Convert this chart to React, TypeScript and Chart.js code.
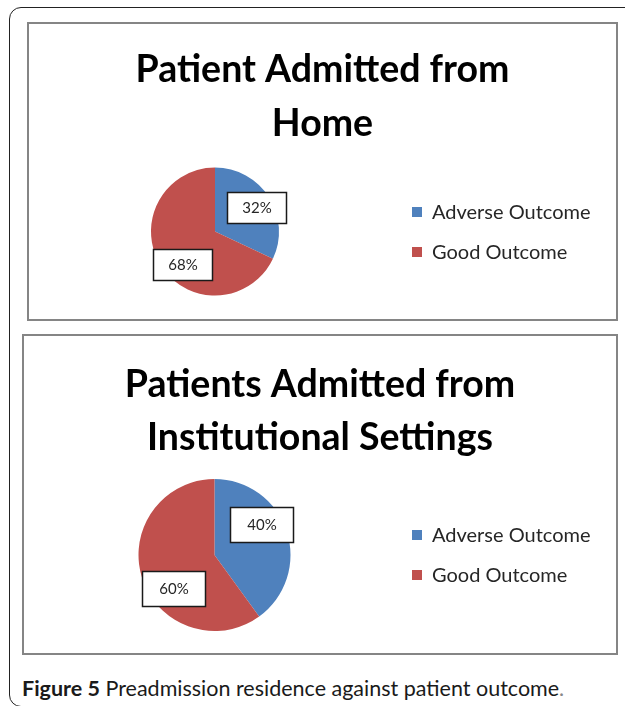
import React, { useEffect, useRef } from "react";
import { Chart, registerables, layouts } from "chart.js";

Chart.register(...registerables);

// ---- data ----
const outcomeLabels = ["Adverse Outcome", "Good Outcome"];
const homeValues = [32, 68];
const institutionalValues = [40, 60];
const homeTitle = ["Patient Admitted from", "Home"];
const institutionalTitle = ["Patients Admitted from", "Institutional Settings"];
const sliceColors = ["#4F81BD", "#C0504D"];

const FONT = "Lato, 'Open Sans', sans-serif";

const labelBoxPlugin = {
  id: "labelBoxes",
  afterDatasetsDraw(chart: any, _args: any, opts: any) {
    const ctx = chart.ctx;
    const meta = chart.getDatasetMeta(0);
    const data = chart.data.datasets[0].data as number[];
    const total = data.reduce((a, b) => a + b, 0);
    meta.data.forEach((arc: any, i: number) => {
      const p = arc.getProps(["x", "y", "startAngle", "endAngle", "outerRadius"], true);
      const mid = (p.startAngle + p.endAngle) / 2 + ((opts.angleShift[i] || 0) * Math.PI) / 180;
      const d = p.outerRadius * opts.radiusFactor[i];
      const cx = p.x + Math.cos(mid) * d;
      const cy = p.y + Math.sin(mid) * d;
      const text = Math.round((data[i] / total) * 100) + "%";
      ctx.save();
      ctx.font = `${opts.fontSize}px ${FONT}`;
      const tw = ctx.measureText(text).width;
      const w = Math.round(tw + opts.padX * 2);
      const h = opts.boxH;
      const bx = Math.round(cx - w / 2);
      const by = Math.round(cy - h / 2);
      ctx.fillStyle = "#ffffff";
      ctx.fillRect(bx, by, w, h);
      ctx.strokeStyle = "#1a1a1a";
      ctx.lineWidth = 1.5;
      ctx.strokeRect(bx + 0.5, by + 0.5, w, h);
      ctx.fillStyle = "#262626";
      ctx.textAlign = "center";
      ctx.textBaseline = "middle";
      ctx.fillText(text, bx + w / 2 + 0.5, by + h / 2 + 1);
      ctx.restore();
    });
  },
};

// A right-hand layout box that reserves room for the legend and draws it.
const sideLegendPlugin = {
  id: "sideLegend",
  start(chart: any, _args: any, opts: any) {
    const box: any = {
      position: "right",
      weight: 0,
      fullSize: false,
      options: { stackWeight: 1 },
      left: 0,
      top: 0,
      right: 0,
      bottom: 0,
      width: 0,
      height: 0,
      isHorizontal() {
        return false;
      },
      update(_maxW: number, maxH: number) {
        this.width = opts.width;
        this.height = maxH;
      },
      draw() {
        const ctx = chart.ctx;
        const area = chart.chartArea;
        const cy = (area.top + area.bottom) / 2;
        const labels = chart.data.labels as string[];
        const colors = chart.data.datasets[0].backgroundColor as string[];
        const n = labels.length;
        const x = chart.width - opts.rightInset;
        ctx.save();
        labels.forEach((lab, i) => {
          const y = cy + (i - (n - 1) / 2) * opts.spacing;
          ctx.fillStyle = colors[i];
          ctx.fillRect(x, Math.round(y - opts.box / 2), opts.box, opts.box);
          ctx.font = `${opts.fontSize}px ${FONT}`;
          ctx.fillStyle = "#262626";
          ctx.textAlign = "left";
          ctx.textBaseline = "middle";
          ctx.fillText(lab, x + opts.box + opts.gap, y + 1);
        });
        ctx.restore();
      },
    };
    layouts.addBox(chart, box);
    chart.$sideLegendBox = box;
  },
  stop(chart: any) {
    if (chart.$sideLegendBox) layouts.removeBox(chart, chart.$sideLegendBox);
  },
};

type PieProps = {
  title: string[];
  values: number[];
  width: number;
  height: number;
  titleLineHeight: number;
  titlePadTop: number;
  legendWidth: number;
  bottomPad: number;
  radius: number;
  labelOpts: any;
};

function PieChart(props: PieProps) {
  const ref = useRef<HTMLCanvasElement | null>(null);
  useEffect(() => {
    if (!ref.current) return;
    const chart = new Chart(ref.current, {
      type: "pie",
      data: {
        labels: outcomeLabels,
        datasets: [
          {
            data: props.values,
            backgroundColor: sliceColors,
            borderWidth: 0,
            radius: props.radius,
          } as any,
        ],
      },
      options: {
        responsive: false,
        animation: false,
        devicePixelRatio: 1,
        layout: { padding: { left: 0, right: 0, top: 0, bottom: props.bottomPad } },
        plugins: {
          tooltip: { enabled: false },
          title: {
            display: true,
            text: props.title,
            color: "#000000",
            font: { family: FONT, size: 37.5, weight: "bold", lineHeight: props.titleLineHeight },
            padding: { top: props.titlePadTop, bottom: 0 },
          },
          legend: { display: false },
          labelBoxes: props.labelOpts,
          sideLegend: { width: props.legendWidth, rightInset: 204, spacing: 40, box: 10, gap: 10, fontSize: 20 },
        } as any,
      },
      plugins: [labelBoxPlugin, sideLegendPlugin],
    });
    return () => chart.destroy();
  }, []);
  return <canvas ref={ref} width={props.width} height={props.height} style={{ display: "block" }} />;
}

export default function App() {
  return (
    <div style={{ position: "absolute", left: 0, top: 0, width: 625, height: 706, overflow: "hidden", background: "#fff" }}>
      <div
        style={{
          position: "absolute",
          left: 9,
          top: 7,
          width: 700,
          height: 700,
          border: "1.5px solid #222",
          borderRadius: 12,
          boxSizing: "border-box",
        }}
      />
      <div
        style={{
          position: "absolute",
          left: 27,
          top: 22,
          width: 591,
          height: 299,
          border: "2px solid #858585",
          boxSizing: "border-box",
          background: "#fff",
        }}
      >
        <PieChart
          title={homeTitle}
          values={homeValues}
          width={587}
          height={295}
          titleLineHeight={54 / 37.5}
          titlePadTop={19}
          legendWidth={215}
          bottomPad={7}
          radius={64}
          labelOpts={{ angleShift: [1.8, -13.5], radiusFactor: [0.75, 0.72], fontSize: 15, padX: 15, boxH: 31 }}
        />
      </div>
      <div
        style={{
          position: "absolute",
          left: 22,
          top: 334,
          width: 596,
          height: 321,
          border: "2px solid #858585",
          boxSizing: "border-box",
          background: "#fff",
        }}
      >
        <PieChart
          title={institutionalTitle}
          values={institutionalValues}
          width={592}
          height={317}
          titleLineHeight={53 / 37.5}
          titlePadTop={22}
          legendWidth={211}
          bottomPad={7}
          radius={76}
          labelOpts={{ angleShift: [-14.4, -21], radiusFactor: [0.74, 0.7], fontSize: 15, padX: 17, boxH: 35 }}
        />
      </div>
      <div
        style={{
          position: "absolute",
          left: 22,
          top: 675,
          fontFamily: FONT,
          fontSize: 21.5,
          lineHeight: "26px",
          color: "#1a1a1a",
          whiteSpace: "nowrap",
        }}
      >
        <b>Figure 5</b> Preadmission residence against patient outcome<span style={{ color: "#888" }}>.</span>
      </div>
    </div>
  );
}
